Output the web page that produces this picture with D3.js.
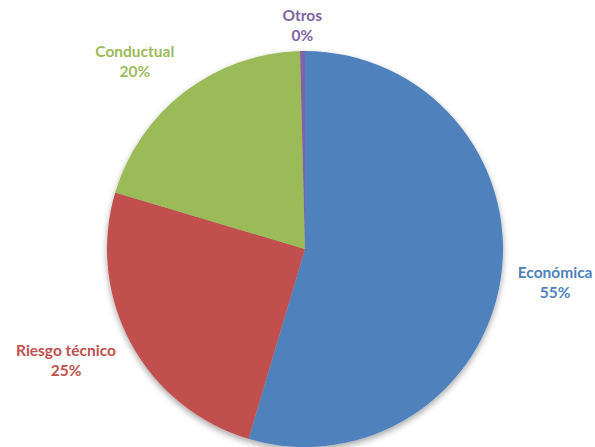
<!DOCTYPE html>
<html><head><meta charset="utf-8">
<script src="https://cdn.jsdelivr.net/npm/d3@7"></script>
<style>html,body{margin:0;padding:0;background:#fff;}svg{display:block;}</style>
</head><body>
<div id="chart"></div>
<script>
const categories = ["Económica", "Riesgo técnico", "Conductual", "Otros"];
const values = [54.6, 25.0, 20.0, 0.4];
const colors = ["#4F81BD", "#C0504D", "#9BBB59", "#8064A2"];

const W = 595, H = 447;
const cx = 305, cy = 249, R = 198;
const svg = d3.select("#chart").append("svg").attr("width", W).attr("height", H);

const defs = svg.append("defs");
const f = defs.append("filter").attr("id", "sh").attr("x", "-20%").attr("y", "-20%").attr("width", "140%").attr("height", "140%");
f.append("feDropShadow").attr("dx", 0).attr("dy", 3).attr("stdDeviation", 3).attr("flood-color", "#000").attr("flood-opacity", 0.35);

const data = categories.map((c, i) => ({ cat: c, value: values[i], color: colors[i] }));
const total = d3.sum(values);
const pie = d3.pie().value(d => d.value).sort(null);
const arcs = pie(data);
const arc = d3.arc().innerRadius(0).outerRadius(R);

const g = svg.append("g").attr("transform", `translate(${cx},${cy})`);
g.append("g").attr("filter", "url(#sh)")
  .selectAll("path").data(arcs).join("path")
  .attr("d", arc).attr("fill", d => d.data.color);

const lr = R + 17;
g.selectAll("text.lab").data(arcs).join("text")
  .attr("class", "lab")
  .attr("font-family", "Lato, 'Open Sans', sans-serif")
  .attr("font-weight", "bold")
  .attr("font-size", 15.5)
  .attr("fill", d => d.data.color)
  .attr("text-anchor", "middle")
  .each(function(d) {
    const a = (d.startAngle + d.endAngle) / 2;
    const sx = Math.sin(a), sy = -Math.cos(a);
    const t = d3.select(this);
    const pct = Math.round(d.data.value / total * 100) + "%";
    const t1 = t.append("tspan").text(d.data.cat);
    const t2 = t.append("tspan").text(pct);
    const w = Math.max(t1.node().getComputedTextLength(), t2.node().getComputedTextLength());
    let bx = lr * sx, by = lr * sy + sy * 20;
    if (sx > 0.15) bx += w / 2; else if (sx < -0.15) bx -= w / 2;
    by = Math.max(by, 26 - cy);
    t1.attr("x", bx).attr("y", by - 5);
    t2.attr("x", bx).attr("y", by + 15);
  });
</script>
</body></html>
